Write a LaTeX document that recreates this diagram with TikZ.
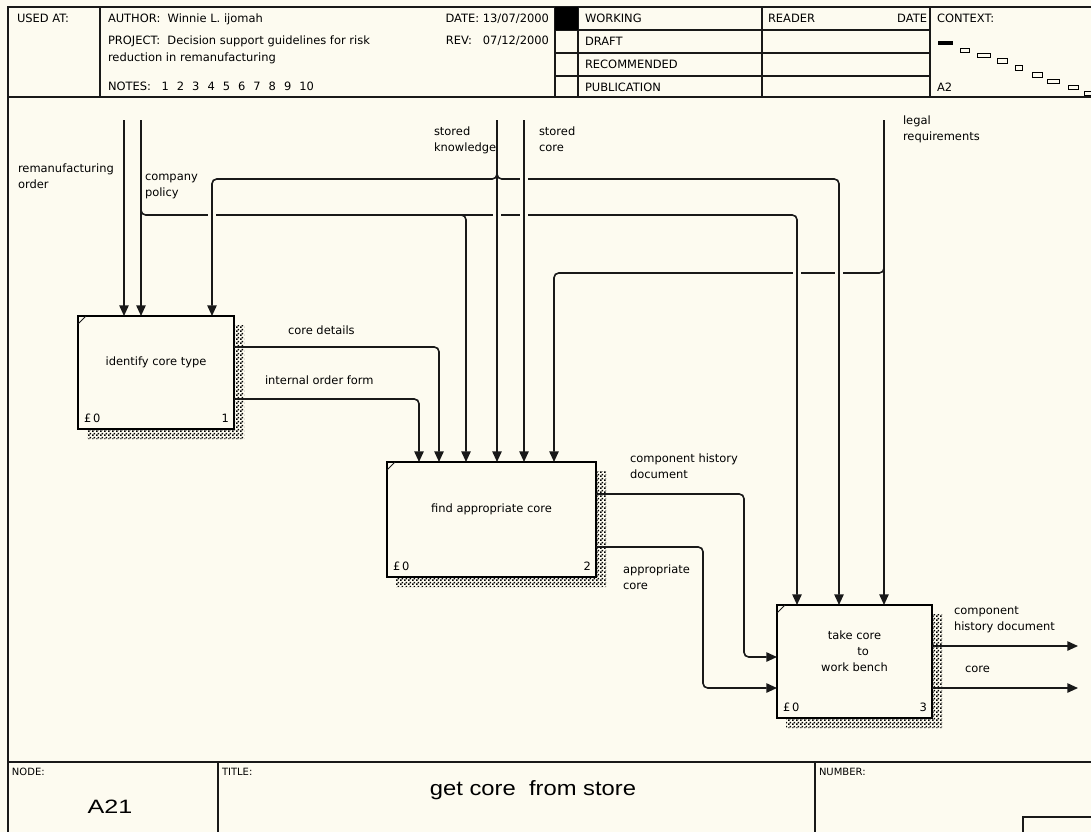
\documentclass[tikz,border=0pt]{standalone}
\usepackage{fontspec}
\setmainfont{DejaVu Sans}
\newfontfamily\titlefont{Liberation Sans}
\usetikzlibrary{arrows.meta,calc,backgrounds,patterns.meta}
\definecolor{paper}{RGB}{253,251,240}
\definecolor{ink}{RGB}{25,25,25}
% fine dithered fill used for the box shadows
\tikzdeclarepattern{
  name=dither, type=uncolored,
  bounding box={(0pt,0pt) and (3pt,3pt)},
  tile size={(3pt,3pt)},
  code={\fill (0pt,0pt) rectangle (1.5pt,1.5pt); \fill (1.5pt,1.5pt) rectangle (3pt,3pt);}
}
\newcommand\lineup{\rule{0pt}{6.5pt}}
\newcommand\nsp{\hspace{6pt}}
\begin{document}
\begin{tikzpicture}[x=0.75pt,y=-0.75pt,
  every node/.style={inner sep=0pt,outer sep=0pt,text=black},
  font=\fontsize{8.6}{12}\selectfont,
  frame/.style={draw=ink,line width=0.9pt},
  proc/.style={draw=black,fill=paper,line width=1pt,anchor=north west},
  shadowfill/.style={pattern=dither,pattern color=black},
  flow/.style={draw=ink,line width=1.2pt,rounded corners=3.5pt},
  arr/.style={flow,-{Triangle[length=8pt,width=7pt]}},
  gap/.style={draw=paper,line width=3pt},
  lbl/.style={anchor=north west,align=left,execute at begin node=\lineup},
  hdr/.style={anchor=base west},
  small/.style={anchor=base west,font=\fontsize{7.5}{8}\selectfont},
]
\begin{pgfonlayer}{background}
  \fill[paper] (0,0) rectangle (1091,832);
\end{pgfonlayer}
\useasboundingbox (0,0) rectangle (1091,832);

% ---------- form frame ----------
\draw[frame] (1091,7) -- (8,7) -- (8,832);
\draw[frame] (8,97) -- (1091,97);
\draw[frame] (8,762) -- (1091,762);
\foreach \x in {100,555,578,762,930} \draw[frame] (\x,7) -- (\x,97);
\foreach \y in {30,53,76} \draw[frame] (555,\y) -- (930,\y);
\fill[black] (555,7) rectangle (578,30);
\draw[frame] (218,762) -- (218,832);
\draw[frame] (815,762) -- (815,832);
\draw[frame] (1091,817) -- (1023,817) -- (1023,832);

% ---------- header ----------
\node[hdr] (usedat) at (17,22) {USED AT:};
\node[hdr] (author) at (108,22) {AUTHOR:\ \ Winnie L. ijomah};
\node[hdr] (project) at (108,44) {PROJECT:\ \ Decision support guidelines for risk};
\node[hdr] (project2) at (108,61) {reduction in remanufacturing};
\node[hdr] (notes) at (108,90) {NOTES:\hspace{8pt}1\nsp2\nsp3\nsp4\nsp5\nsp6\nsp7\nsp8\nsp9\nsp10};
\node[anchor=base east] (date) at (549,22) {DATE:\ 13/07/2000};
\node[anchor=base east] (rev) at (549,44) {REV:\ \ \ 07/12/2000};
\node[hdr] (working) at (585,22) {WORKING};
\node[hdr] (draft) at (585,45) {DRAFT};
\node[hdr] (recom) at (585,68) {RECOMMENDED};
\node[hdr] (public) at (585,91) {PUBLICATION};
\node[hdr] (reader) at (768,22) {READER};
\node[anchor=base east] (rdate) at (927,22) {DATE};
\node[hdr] (context) at (937,22) {CONTEXT:};
\node[hdr] (ctxnode) at (937,91) {A2};
\fill[black] (938,41) rectangle (953,45);
\foreach \a/\b/\c/\d in {960/48/969/52, 977/53/990/57, 997/58/1007/63, 1015/65/1022/70,
                          1032/72/1042/77, 1047/79/1059/83, 1068/85/1078/89, 1084/91/1091/95}
  \draw[black,line width=0.7pt] (\a,\b) rectangle (\c,\d);

% ---------- footer ----------
\node[small] (nodelbl) at (12,775) {NODE:};
\node[anchor=base,font=\titlefont\fontsize{14.5}{16}\selectfont] (nodeno) at (110,813) {\scalebox{1.3}[1]{A21}};
\node[small] (titlelbl) at (222,775) {TITLE:};
\node[anchor=base,font=\titlefont\fontsize{15.5}{17}\selectfont] (title) at (533,795) {\scalebox{1.15}[1]{get core\ \ from store}};
\node[small] (numlbl) at (819,775) {NUMBER:};

% ---------- activity boxes ----------
\node[proc,minimum width=117pt,minimum height=84.75pt] (b1) at (78,316) {};
\node[proc,minimum width=156.75pt,minimum height=86.25pt] (b2) at (387,462) {};
\node[proc,minimum width=116.25pt,minimum height=84.75pt] (b3) at (777,605) {};
\begin{pgfonlayer}{background}
  \foreach \b in {b1,b2,b3}
    \fill[shadowfill] ($(\b.north east)+(0,9)$) -- ($(\b.north east)+(10,9)$)
      -- ($(\b.south east)+(10,10)$) -- ($(\b.south west)+(9,10)$)
      -- ($(\b.south west)+(9,0)$) -- (\b.south east) -- cycle;
\end{pgfonlayer}
\foreach \b in {b1,b2,b3}
  \draw[ink,line width=0.6pt] ($(\b.north west)+(0,8)$) -- ($(\b.north west)+(8,0)$);

\node (b1t) at ($(b1.center)+(0,-10)$) {identify core type};
\node (b2t) at ($(b2.center)+(0,-10)$) {find appropriate core};
\node[align=center] (b3t) at ($(b3.center)+(0,-10)$) {take core\\\hspace*{13pt}to\\work bench};
\node[anchor=base west] (b1c) at ($(b1.south west)+(6,-7)$) {£\,0};
\node[anchor=base east] (b1n) at ($(b1.south east)+(-5,-7)$) {1};
\node[anchor=base west] (b2c) at ($(b2.south west)+(6,-7)$) {£\,0};
\node[anchor=base east] (b2n) at ($(b2.south east)+(-5,-7)$) {2};
\node[anchor=base west] (b3c) at ($(b3.south west)+(6,-7)$) {£\,0};
\node[anchor=base east] (b3n) at ($(b3.south east)+(-5,-7)$) {3};

% ---------- boundary arrow ends ----------
\coordinate (ro) at (124,120);
\coordinate (cp) at (141,120);
\coordinate (sk) at (497,120);
\coordinate (sc) at (524,120);
\coordinate (lg) at (884,120);
\coordinate (o1) at (1078,646);
\coordinate (o2) at (1078,688);

% legal requirements branch to box 2
\draw[arr] (884,266) -- (884,273) -- (554,273) -- (554,0 |- b2.north);
\draw[gap] (793,273) -- (801,273);
\draw[gap] (835,273) -- (843,273);
% company policy branches to boxes 2 and 3
\draw[arr] (141,205) -- (141,215) -- (797,215) -- (797,0 |- b3.north);
\draw[arr] (456,215) -- (466,215) -- (466,0 |- b2.north);
\draw[gap] (208,215) -- (216,215);
\draw[gap] (493,215) -- (501,215);
\draw[gap] (520,215) -- (528,215);
% stored knowledge branches to boxes 1 and 3
\draw[arr] (497,170) -- (497,179) -- (212,179) -- (212,0 |- b1.north);
\draw[arr] (497,170) -- (497,179) -- (839,179) -- (839,0 |- b3.north);
\draw[gap] (520,179) -- (528,179);
% main vertical inputs
\draw[arr] (ro) -- (ro |- b1.north);
\draw[arr] (cp) -- (cp |- b1.north);
\draw[arr] (sk) -- (sk |- b2.north);
\draw[arr] (sc) -- (sc |- b2.north);
\draw[arr] (lg) -- (lg |- b3.north);

% box to box flows
\draw[arr] (b1.east |- 0,347) -- (439,347) -- (439,0 |- b2.north);
\draw[arr] (b1.east |- 0,399) -- (419,399) -- (419,0 |- b2.north);
\draw[arr] (b2.east |- 0,494) -- (744,494) -- (744,657) -- (b3.west |- 0,657);
\draw[arr] (b2.east |- 0,547) -- (703,547) -- (703,688) -- (b3.west |- 0,688);
\draw[arr] (b3.east |- o1) -- (o1);
\draw[arr] (b3.east |- o2) -- (o2);

% ---------- arrow labels ----------
\node[lbl] (l1) at (18,164) {remanufacturing\\order};
\node[lbl] (l2) at (145,174) {company\\policy};
\node[lbl] (l3) at (434,127) {stored\\knowledge};
\node[lbl] (l4) at (539,127) {stored\\core};
\node[lbl] (l5) at (903,116) {legal\\requirements};
\node[lbl] (l6) at (288,326) {core details};
\node[lbl] (l7) at (265,376) {internal order form};
\node[lbl] (l8) at (630,454) {component history\\document};
\node[lbl] (l9) at (623,565) {appropriate\\core};
\node[lbl] (l10) at (954,606) {component\\history document};
\node[lbl] (l11) at (965,664) {core};
\end{tikzpicture}
\end{document}
